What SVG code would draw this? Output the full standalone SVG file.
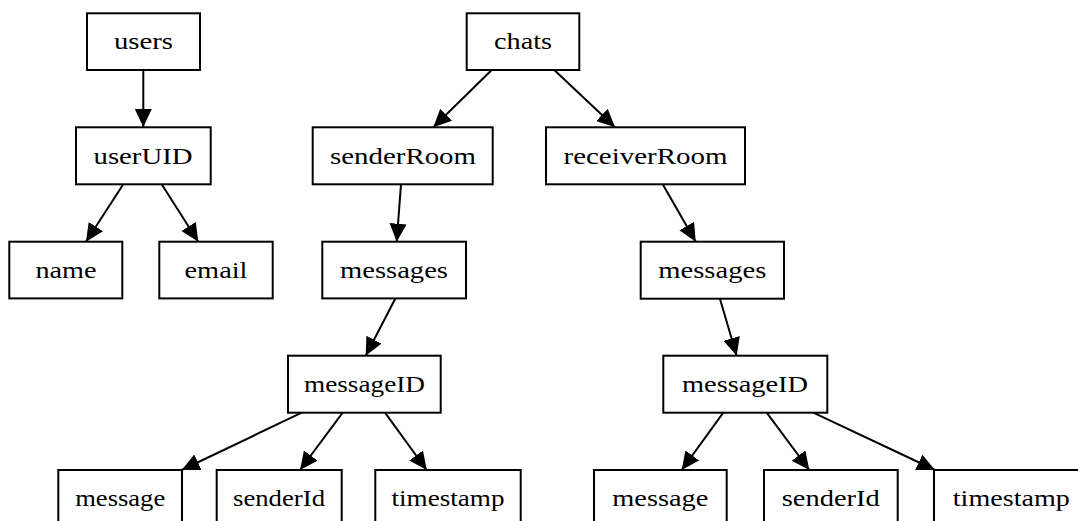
<svg xmlns="http://www.w3.org/2000/svg" width="1078" height="521" viewBox="0 0 1078 521">
<style>
.box{fill:#fff;stroke:#000;stroke-width:2}
.lbl{font-family:"Liberation Serif","Times New Roman",serif;font-size:24px;fill:#000;text-anchor:middle}
.edge{stroke:#000;stroke-width:2;fill:none;marker-end:url(#ah)}
</style>
<defs>
<marker id="ah" markerUnits="userSpaceOnUse" markerWidth="19" markerHeight="18" refX="18" refY="8.5" orient="auto">
<path d="M0,0 L18,8.5 L0,17 z" fill="#000"/>
</marker>
</defs>
<rect width="1078" height="521" fill="#fff"/>
<g id="edges">
<line class="edge" x1="143.3" y1="70" x2="143.3" y2="127"/>
<line class="edge" x1="123.3" y1="184.3" x2="86" y2="241.7"/>
<line class="edge" x1="161.7" y1="184.3" x2="198.3" y2="241.7"/>
<line class="edge" x1="491.7" y1="70" x2="433.3" y2="127.3"/>
<line class="edge" x1="554.3" y1="70" x2="615" y2="127.3"/>
<line class="edge" x1="401" y1="184.3" x2="396.7" y2="241.7"/>
<line class="edge" x1="662.7" y1="184.3" x2="695.7" y2="241.7"/>
<line class="edge" x1="395.5" y1="298.3" x2="365.7" y2="355.7"/>
<line class="edge" x1="720" y1="299" x2="736.7" y2="355.7"/>
<line class="edge" x1="301.7" y1="412.7" x2="181.7" y2="470"/>
<line class="edge" x1="342.7" y1="412.7" x2="300" y2="470"/>
<line class="edge" x1="385" y1="412.7" x2="426.7" y2="470"/>
<line class="edge" x1="723.3" y1="412.7" x2="681.7" y2="470"/>
<line class="edge" x1="766.7" y1="412.7" x2="809.3" y2="470"/>
<line class="edge" x1="813.3" y1="412.7" x2="935" y2="470"/>
</g>
<g id="users"><rect class="box" x="87" y="13.3" width="113" height="56.7"/><text class="lbl" x="143.5" y="49" textLength="59" lengthAdjust="spacingAndGlyphs">users</text></g>
<g id="userUID"><rect class="box" x="76" y="127.3" width="134.7" height="57"/><text class="lbl" x="143" y="164" textLength="99" lengthAdjust="spacingAndGlyphs">userUID</text></g>
<g id="name"><rect class="box" x="9.3" y="241.7" width="113" height="56.7"/><text class="lbl" x="66" y="278" textLength="61" lengthAdjust="spacingAndGlyphs">name</text></g>
<g id="email"><rect class="box" x="159.3" y="241.7" width="113.4" height="56.7"/><text class="lbl" x="216" y="278" textLength="63" lengthAdjust="spacingAndGlyphs">email</text></g>
<g id="chats"><rect class="box" x="466.7" y="13.3" width="112.6" height="56.7"/><text class="lbl" x="523" y="49" textLength="58" lengthAdjust="spacingAndGlyphs">chats</text></g>
<g id="senderRoom"><rect class="box" x="312.7" y="127.3" width="180" height="57"/><text class="lbl" x="403" y="164" textLength="146" lengthAdjust="spacingAndGlyphs">senderRoom</text></g>
<g id="receiverRoom"><rect class="box" x="546" y="127.3" width="199" height="57"/><text class="lbl" x="645.5" y="164" textLength="164" lengthAdjust="spacingAndGlyphs">receiverRoom</text></g>
<g id="messages1"><rect class="box" x="322.3" y="241.7" width="143.7" height="56.7"/><text class="lbl" x="394" y="278" textLength="108" lengthAdjust="spacingAndGlyphs">messages</text></g>
<g id="messages2"><rect class="box" x="640.7" y="241.7" width="143.3" height="57"/><text class="lbl" x="712.3" y="278" textLength="108" lengthAdjust="spacingAndGlyphs">messages</text></g>
<g id="messageID1"><rect class="box" x="288" y="355.7" width="152.7" height="57"/><text class="lbl" x="364.5" y="392" textLength="121" lengthAdjust="spacingAndGlyphs">messageID</text></g>
<g id="messageID2"><rect class="box" x="663.3" y="355.7" width="164" height="57"/><text class="lbl" x="745" y="392" textLength="126" lengthAdjust="spacingAndGlyphs">messageID</text></g>
<g id="message1"><rect class="box" x="58.3" y="470" width="123.7" height="57"/><text class="lbl" x="120.2" y="506" textLength="90" lengthAdjust="spacingAndGlyphs">message</text></g>
<g id="senderId1"><rect class="box" x="216.7" y="470" width="125" height="57"/><text class="lbl" x="279" y="506" textLength="92" lengthAdjust="spacingAndGlyphs">senderId</text></g>
<g id="timestamp1"><rect class="box" x="375.3" y="470" width="145.4" height="57"/><text class="lbl" x="448" y="506" textLength="113" lengthAdjust="spacingAndGlyphs">timestamp</text></g>
<g id="message2"><rect class="box" x="594" y="470" width="132.7" height="57"/><text class="lbl" x="660.3" y="506" textLength="96" lengthAdjust="spacingAndGlyphs">message</text></g>
<g id="senderId2"><rect class="box" x="764" y="470" width="133.7" height="57"/><text class="lbl" x="830.8" y="506" textLength="98" lengthAdjust="spacingAndGlyphs">senderId</text></g>
<g id="timestamp2"><rect class="box" x="934" y="470" width="154" height="57"/><text class="lbl" x="1011.3" y="506" textLength="117" lengthAdjust="spacingAndGlyphs">timestamp</text></g>
</svg>
